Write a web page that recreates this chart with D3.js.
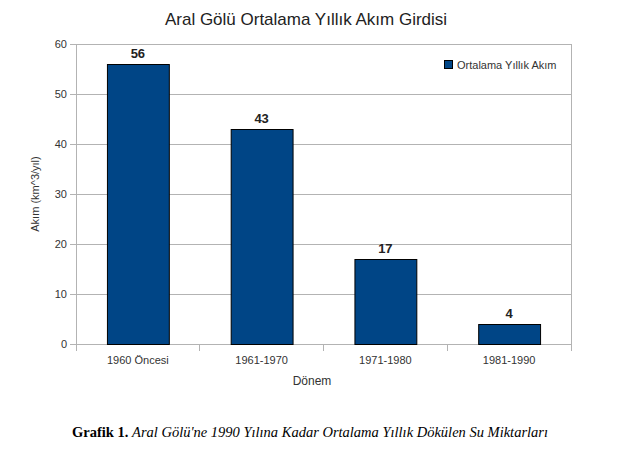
<!DOCTYPE html>
<html><head><meta charset="utf-8">
<script src="https://cdn.jsdelivr.net/npm/d3@7"></script>
<style>body{margin:0;background:#fff}svg{display:block}text{font-family:"Liberation Sans",Arial,sans-serif}</style>
</head><body>
<script>
const categories = ["1960 Öncesi","1961-1970","1971-1980","1981-1990"];
const values = [56,43,17,4];
const yTicks = [0,10,20,30,40,50,60];
const seriesName = "Ortalama Yıllık Akım";

const W=633,H=465;
const m={left:76,right:571,top:44,bottom:344};
const svg=d3.select("body").append("svg").attr("width",W).attr("height",H);
const x=d3.scaleBand().domain(categories).range([m.left,m.right]).paddingInner(0).paddingOuter(0);
const y=d3.scaleLinear().domain([0,60]).range([m.bottom,m.top]);

svg.append("text").attr("x",306).attr("y",25).attr("text-anchor","middle")
  .attr("font-size",17).attr("fill","#222").text("Aral Gölü Ortalama Yıllık Akım Girdisi");

// grid
svg.append("g").selectAll("line").data(yTicks).join("line")
  .attr("x1",m.left).attr("x2",m.right).attr("y1",d=>y(d)).attr("y2",d=>y(d))
  .attr("stroke","#b3b3b3").attr("stroke-width",1).attr("shape-rendering","crispEdges");
svg.append("line").attr("x1",m.right).attr("x2",m.right).attr("y1",m.top).attr("y2",m.bottom)
  .attr("stroke","#b3b3b3").attr("shape-rendering","crispEdges");

// y axis
const ya=svg.append("g").attr("transform",`translate(${m.left},0)`)
  .call(d3.axisLeft(y).tickValues(yTicks).tickSize(6).tickPadding(3));
ya.select(".domain").attr("stroke","#b3b3b3");
ya.selectAll(".tick line").attr("stroke","#b3b3b3");
ya.selectAll("text").attr("font-size",11).attr("fill","#333").attr("font-family","Liberation Sans, Arial, sans-serif");

// x axis
const xa=svg.append("g").attr("transform",`translate(0,${m.bottom})`)
  .call(d3.axisBottom(x).tickSize(0).tickPadding(12));
xa.select(".domain").attr("stroke","#b3b3b3");
xa.selectAll("text").attr("font-size",11).attr("fill","#333").attr("font-family","Liberation Sans, Arial, sans-serif");
const boundaries=[...categories.map(c=>x(c)),m.right];
svg.append("g").selectAll("line").data(boundaries).join("line")
  .attr("x1",d=>d).attr("x2",d=>d).attr("y1",m.bottom).attr("y2",m.bottom+7)
  .attr("stroke","#b3b3b3").attr("shape-rendering","crispEdges");

// bars
const bw=x.bandwidth()*0.5;
svg.append("g").selectAll("rect").data(values).join("rect")
  .attr("x",(d,i)=>x(categories[i])+x.bandwidth()/2-bw/2+0.5)
  .attr("y",d=>y(d)+0.5).attr("width",bw).attr("height",d=>y(0)-y(d))
  .attr("fill","#004586").attr("stroke","#000").attr("stroke-width",1);

// value labels
svg.append("g").selectAll("text").data(values).join("text")
  .attr("x",(d,i)=>x(categories[i])+x.bandwidth()/2).attr("y",d=>y(d)-6)
  .attr("text-anchor","middle").attr("font-size",13).attr("font-weight","bold").attr("fill","#222")
  .text(d=>d);

// axis titles
svg.append("text").attr("transform",`translate(39,${(m.top+m.bottom)/2}) rotate(-90)`)
  .attr("text-anchor","middle").attr("font-size",11).attr("fill","#333").text("Akım (km^3/yıl)");
svg.append("text").attr("x",312).attr("y",385).attr("text-anchor","middle")
  .attr("font-size",12).attr("fill","#333").text("Dönem");

// legend
svg.append("rect").attr("x",444.5).attr("y",60.5).attr("width",8).attr("height",8)
  .attr("fill","#004586").attr("stroke","#000");
svg.append("text").attr("x",457).attr("y",68.5).attr("font-size",11).attr("fill","#333").text(seriesName);

// caption
const cap=svg.append("text").attr("x",310).attr("y",437).attr("text-anchor","middle")
  .attr("font-family","Liberation Serif, Times New Roman, serif").attr("font-size",14.5).attr("fill","#000");
cap.append("tspan").attr("font-weight","bold").style("font-family","Liberation Serif, serif").text("Grafik 1. ");
cap.append("tspan").attr("font-style","italic").style("font-family","Liberation Serif, serif").text("Aral Gölü'ne 1990 Yılına Kadar Ortalama Yıllık Dökülen Su Miktarları");
</script>
</body></html>
